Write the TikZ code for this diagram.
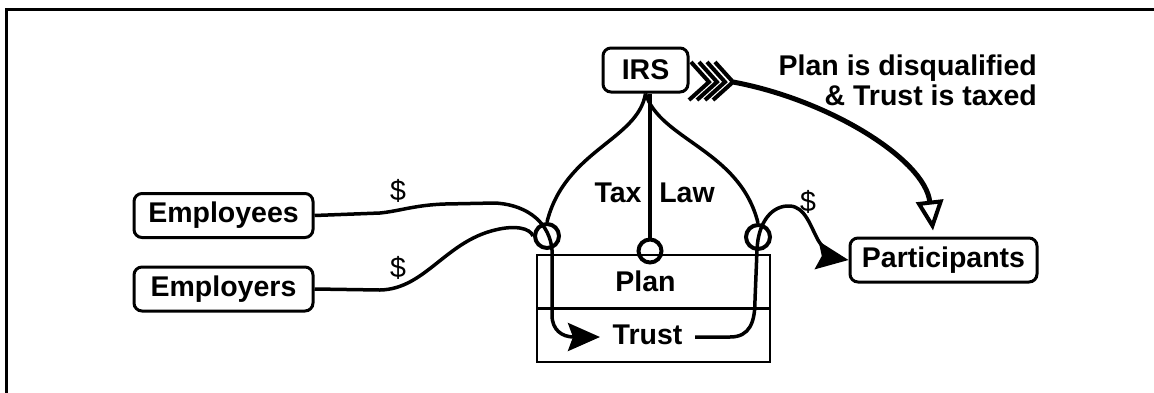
\documentclass[tikz,border=0pt]{standalone}
\usepackage{fontspec}
\setmainfont{Liberation Sans}
\usetikzlibrary{arrows.meta, shapes.geometric}
\newcommand{\diagsize}{\fontsize{28.5}{30}\selectfont}
\tikzstyle{party} = [rectangle, rounded corners=8pt, line width=3pt, draw=black, minimum height=44pt, inner xsep=11pt, font=\diagsize\bfseries]
\tikzstyle{tray} = [rectangle, line width=2.5pt, draw=black, minimum width=233pt, minimum height=53.5pt, font=\diagsize\bfseries]
\tikzstyle{knot} = [circle, line width=4pt, draw=black, minimum size=24pt, inner sep=0pt]
\tikzstyle{tag} = [inner sep=0pt, anchor=base, font=\diagsize\bfseries]
\tikzstyle{cash} = [inner sep=0pt, anchor=base, font=\diagsize]
\tikzstyle{rule} = [line width=3.5pt]
\tikzstyle{flow} = [line width=3.5pt, -{Stealth[length=32pt, width=28pt, inset=5pt]}]
\tikzstyle{penalty} = [line width=5pt, -{Triangle[open, length=30pt, width=27pt, line width=4pt]}]

\begin{document}
\begin{tikzpicture}[x=1pt, y=-1pt]
  \useasboundingbox (0,0) rectangle (1154,392);

  % Frame
  \draw[line width=3.5pt] (6.5,400) -- (6.5,9.5) -- (1160,9.5);

  % Parties
  \node (irs) at (645.5,70) [party, minimum width=85pt] {IRS};
  \node (employees) at (223.5,215.5) [party, minimum width=179pt] {Employees};
  \node (employers) at (223.5,289) [party, minimum width=179pt] {Employers};
  \node (participants) at (943.5,260) [party, minimum width=187pt] {Participants};

  % Plan over trust
  \node (plan) at (653.5,281.5) [tray] {Plan\hspace*{16pt}};
  \node (trust) at (653.5,335) [tray] {Trust\hspace*{12pt}};
  \coordinate (trustin) at (600,337);
  \coordinate (trustout) at (695,337);

  % Knots where the money and the law meet
  \node (kin) at (547,236) [knot] {};
  \node (kout) at (758,237) [knot] {};
  \node (hook) at (650,251) [knot, minimum size=23pt] {};

  % Tax law
  \draw[rule] (hook |- irs.south) -- (hook);
  \draw[rule] (irs.south) .. controls (638,140) and (565,150) .. (kin.north);
  \draw[rule] (irs.south) .. controls (660,140) and (740,150) .. (kout.north);
  \node (tax) at (618,202) [tag] {Tax};
  \node (law) at (687,202) [tag] {Law};

  % Contributions
  \draw[flow] (employees.east) -- (380,213) .. controls (400,211) and (415,205) .. (445,204) -- (495,203)
    .. controls (530,205) and (550,225) .. (552,250) -- (552,315) .. controls (552,330) and (562,337) .. (trustin);
  \draw[rule] (employers.east) -- (380,290) .. controls (425,289) and (445,242) .. (495,230)
    .. controls (515,225) and (530,228) .. (kin.west);
  \node (pay1) at (398,200) [cash] {\$};
  \node (pay2) at (398,277) [cash] {\$};

  % Benefits
  \draw[flow] (trustout) -- (730,337) .. controls (750,337) and (755,322) .. (755,300) -- (757,250)
    .. controls (758,222) and (772,205) .. (790,206) .. controls (805,207) and (810,225) .. (818,240)
    .. controls (826,253) and (835,258) .. (participants.west);
  \node (pay3) at (808,211) [cash] {\$};

  % Disqualification
  \coordinate (irsout) at (733,82);
  \foreach \tip in {709,717,725,733}
    \draw[line width=4pt] (\tip-18,62) -- (\tip,82) -- (\tip-20,100);
  \draw[penalty] (irsout) .. controls (830,100) and (925,160) .. ([xshift=-10.5pt, yshift=6pt]participants.north);
  \node (verdict) at (1037,55) [anchor=north east, align=right, inner sep=0pt, font=\diagsize\bfseries] {Plan is disqualified\\\& Trust is taxed};
\end{tikzpicture}
\end{document}
